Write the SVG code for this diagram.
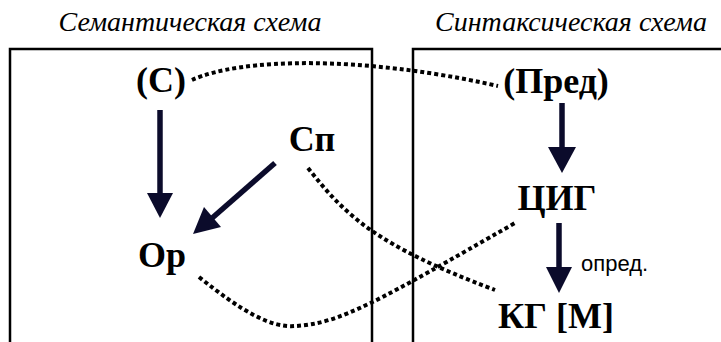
<svg xmlns="http://www.w3.org/2000/svg" width="721" height="342" viewBox="0 0 721 342">
<style>
.title{font-family:'Liberation Serif',serif;font-style:italic;font-size:28px;fill:#000;text-anchor:middle}
.node{font-family:'Liberation Serif',serif;font-weight:bold;font-size:36px;fill:#000;text-anchor:middle}
.lbl{font-family:'Liberation Sans',sans-serif;font-size:22px;fill:#000}
.box{fill:none;stroke:#000;stroke-width:2.5}
.shaft{stroke:#0b0b2b;stroke-width:5.5;fill:none}
.head{fill:#0b0b2b}
.dot{fill:none;stroke:#000;stroke-width:4;stroke-dasharray:4 3}
</style>
<rect width="721" height="342" fill="#fff"/>
<g id="semantic">
<text class="title" x="190" y="31">Семантическая схема</text>
<rect class="box" x="10" y="49" width="362" height="310"/>
</g>
<g id="syntactic">
<text class="title" x="571" y="31">Синтаксическая схема</text>
<rect class="box" x="413" y="49" width="330" height="310"/>
</g>
<g id="node-S"><text class="node" x="161" y="92">(С)</text></g>
<g id="node-Sp"><text class="node" x="312" y="151">Сп</text></g>
<g id="node-Or"><text class="node" x="162" y="267">Ор</text></g>
<g id="node-Pred"><text class="node" x="556" y="93">(Пред)</text></g>
<g id="node-TsIG"><text class="node" x="557" y="210">ЦИГ</text></g>
<g id="node-KG"><text class="node" x="556" y="328">КГ [М]</text></g>
<g id="connectors">
<line class="shaft" x1="160" y1="110" x2="160" y2="195"/>
<polygon class="head" points="147,193 173,193 160,218"/>
<line class="shaft" x1="275" y1="163" x2="211" y2="219"/>
<polygon class="head" points="204,207 221,227 193,234"/>
<line class="shaft" x1="562" y1="103" x2="562" y2="149"/>
<polygon class="head" points="548,147 576,147 562,173"/>
<line class="shaft" x1="559" y1="223" x2="559" y2="269"/>
<polygon class="head" points="546,267 572,267 559,293"/>
<text class="lbl" x="581" y="271">опред.</text>
<path class="dot" d="M192,80 C240,58 360,55 498,86"/>
<path class="dot" d="M308,168 C345,215 375,245 495,290"/>
<path class="dot" d="M199,277 C240,310 270,328 295,326 C340,324 380,300 515,223"/>
</g>
</svg>
